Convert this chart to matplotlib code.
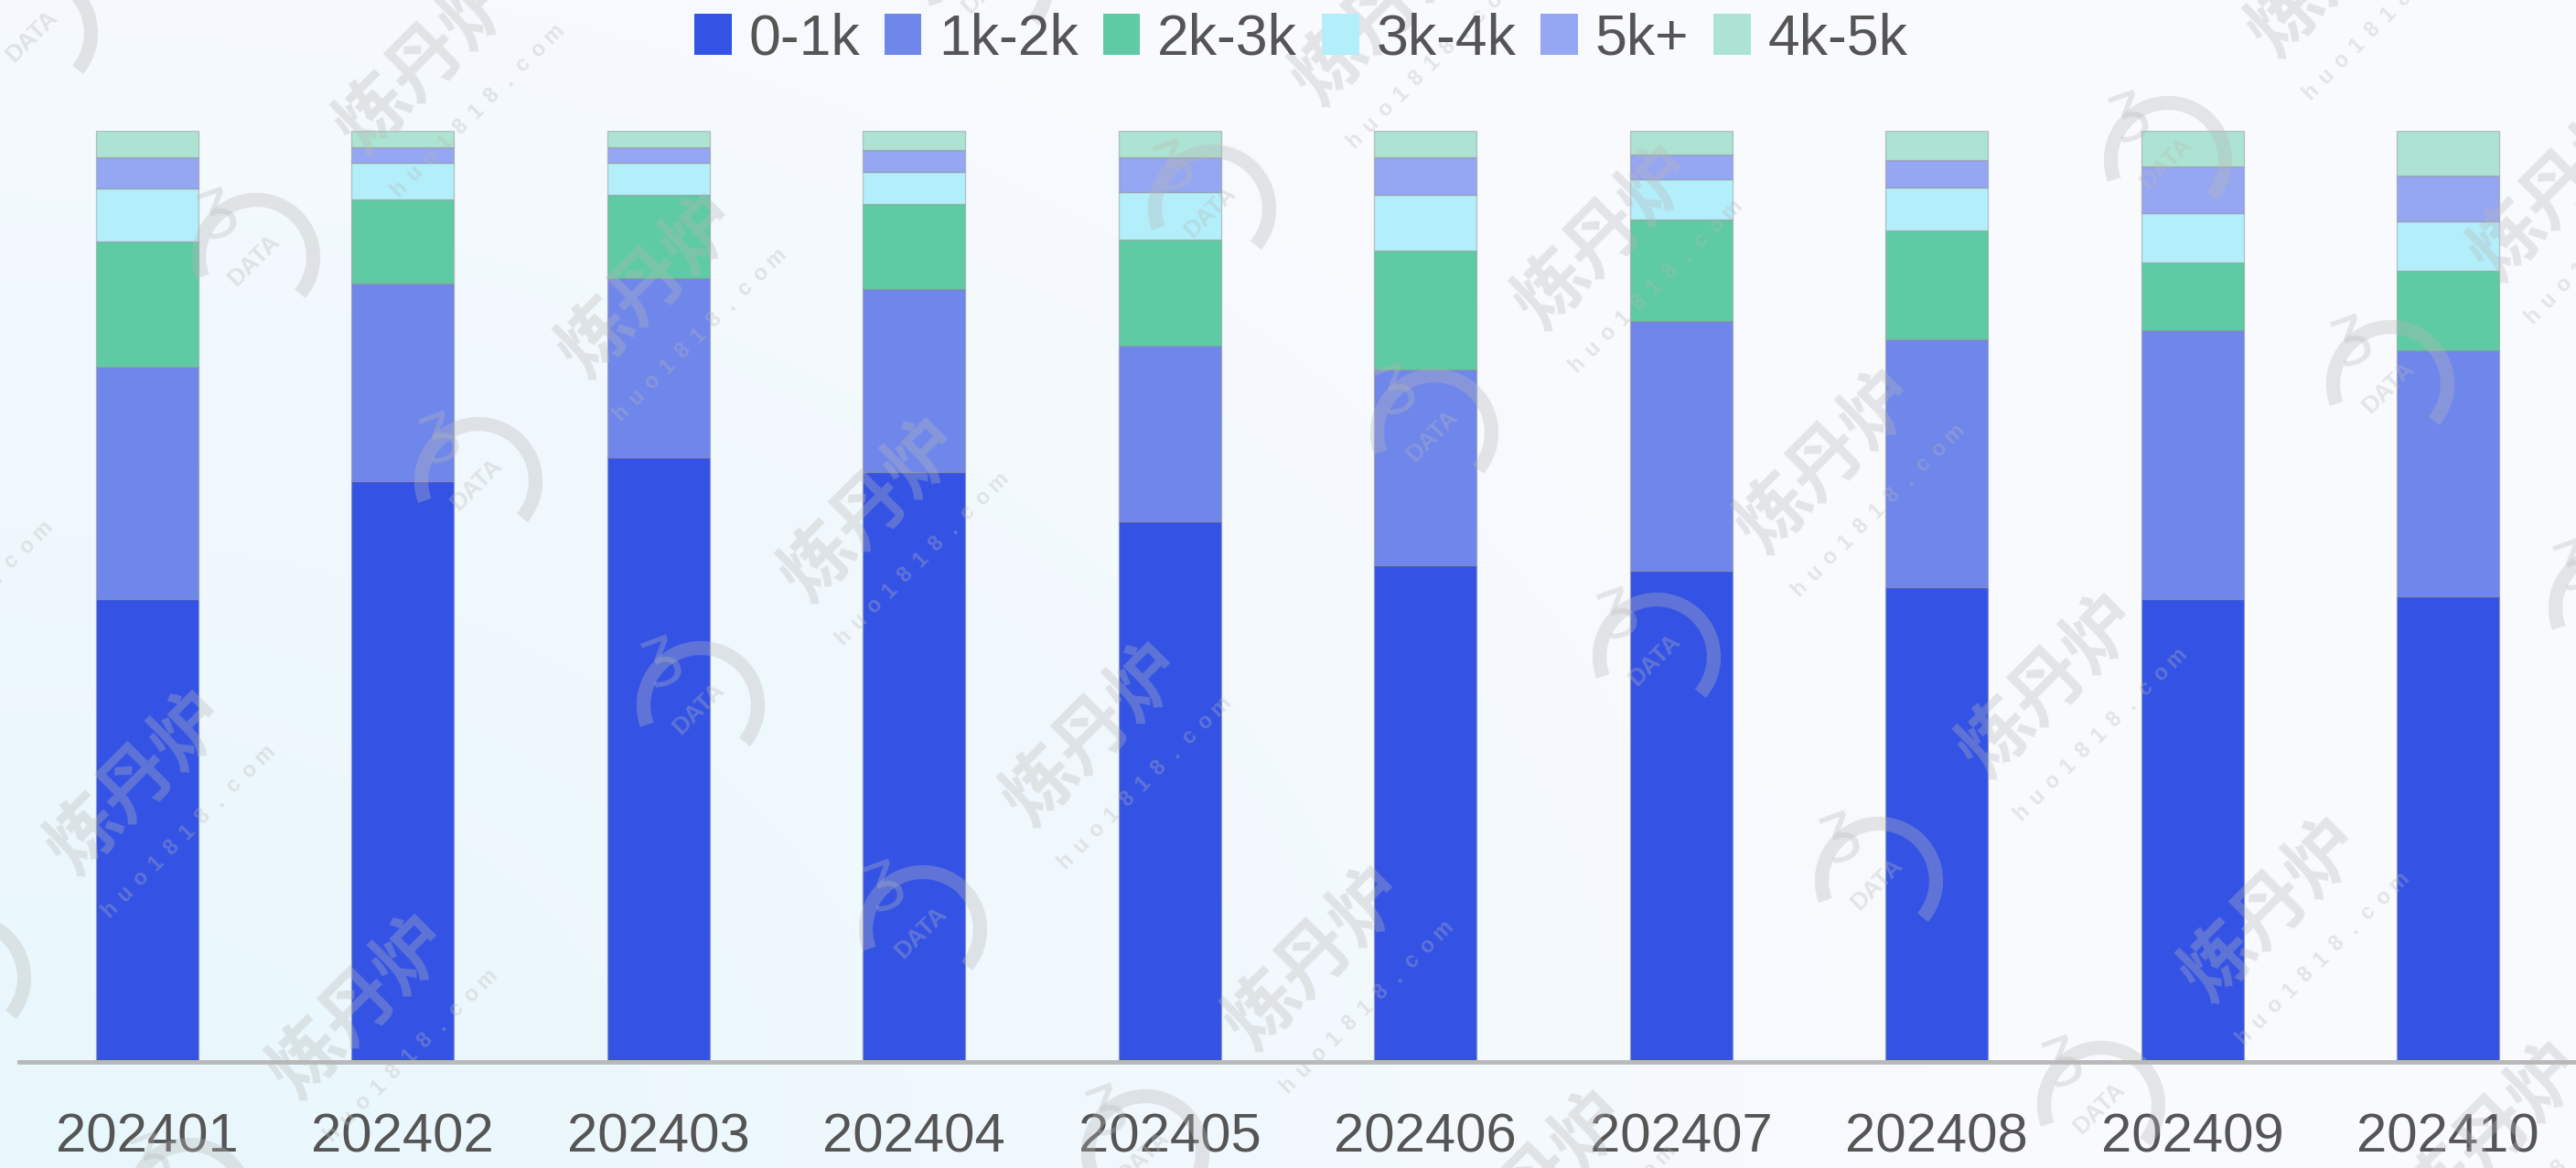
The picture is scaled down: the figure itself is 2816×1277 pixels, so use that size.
import numpy as np
import matplotlib
matplotlib.use("Agg")
import matplotlib.pyplot as plt
from matplotlib.patches import Patch, Arc

# ---- data -------------------------------------------------------------
months = ["202401", "202402", "202403", "202404", "202405",
          "202406", "202407", "202408", "202409", "202410"]
series_labels = ["0-1k", "1k-2k", "2k-3k", "3k-4k", "5k+", "4k-5k"]

share_0_1k = [49.7, 62.4, 64.9, 63.4, 58.1, 53.3, 52.8, 51.0, 49.7, 50.0]
share_1k_2k = [24.9, 21.2, 19.3, 19.7, 18.8, 21.1, 26.8, 26.7, 28.9, 26.4]
share_2k_3k = [13.4, 9.0, 8.9, 9.1, 11.4, 12.7, 11.0, 11.7, 7.3, 8.6]
share_3k_4k = [5.7, 4.0, 3.5, 3.5, 5.1, 6.0, 4.3, 4.6, 5.3, 5.3]
share_5k_plus = [3.4, 1.6, 1.6, 2.3, 3.8, 4.1, 2.6, 3.0, 5.0, 4.9]
share_4k_5k = [2.8, 1.8, 1.8, 2.1, 2.8, 2.8, 2.6, 3.1, 3.8, 4.8]

series_colors = ["#3453E5", "#6F86EB", "#5ECBA4", "#B3EEFB", "#95A6F2", "#ADE3D2"]

# ---- figure -----------------------------------------------------------
W, H = 2816, 1277
fig = plt.figure(figsize=(W / 100, H / 100), dpi=100)
plt.rcParams["font.family"] = ["Liberation Sans", "Noto Sans CJK SC", "DejaVu Sans"]

# soft background gradient (bluish in the lower left, near white elsewhere)
bg = fig.add_axes([0, 0, 1, 1], zorder=0)
yy, xx = np.mgrid[0:H:4, 0:W:4]
xb = xx / W
yb = 1 - yy / H
d = np.sqrt((xb / 0.75) ** 2 + (yb / 1.15) ** 2)
w = np.clip(1 - d, 0, 1) ** 0.9
c_low = np.array([232, 247, 252]) / 255
c_high = np.array([248, 250, 254]) / 255
img = c_high[None, None, :] * (1 - w[..., None]) + c_low[None, None, :] * w[..., None]
bg.imshow(img, extent=[0, 1, 0, 1], aspect="auto", origin="upper")
bg.axis("off")

# main axes
ax = fig.add_axes([21 / W, 1 - 1161 / H, 1 - 21 / W, (1161 - 143) / H], zorder=2)
ax.patch.set_alpha(0)

stack = np.array([share_0_1k, share_1k_2k, share_2k_3k,
                  share_3k_4k, share_5k_plus, share_4k_5k], dtype=float)
stack = stack / stack.sum(axis=0) * 100
x = np.arange(len(months))
bottom = np.zeros(len(months))
for vals, lab, col in zip(stack, series_labels, series_colors):
    ax.bar(x, vals, width=0.4, bottom=bottom, color=col, label=lab,
           edgecolor=(0.55, 0.55, 0.55, 0.45), linewidth=1.0)
    bottom += vals

ax.set_xlim(-0.5, len(months) - 0.5)
ax.set_ylim(0, 100)
ax.set_xticks(x)
ax.set_xticklabels(months, fontsize=43, color="#555555")
ax.tick_params(axis="x", length=0, pad=40)
ax.set_yticks([])
for s in ["top", "right", "left"]:
    ax.spines[s].set_visible(False)
ax.spines["bottom"].set_color("#b9b9b9")
ax.spines["bottom"].set_linewidth(3.5)

# legend across the top
handles = [Patch(facecolor=c, edgecolor="none") for c in series_colors]
fig.legend(handles, series_labels, loc="center", bbox_to_anchor=(1422 / W, 1 - 43 / H),
           ncol=6, frameon=False, fontsize=45, handlelength=0.65, handleheight=0.72,
           handletextpad=0.3, columnspacing=0.43, labelcolor="#555555")

# ---- watermark overlay ------------------------------------------------
wm = fig.add_axes([0, 0, 1, 1], zorder=5)
wm.set_xlim(0, W)
wm.set_ylim(H, 0)
wm.axis("off")
wm.patch.set_alpha(0)


def near_canvas(p, m):
    return -m < p[0] < W + m and -m < p[1] < H + m


wm_color = (0.72, 0.72, 0.72, 0.33)
step_a = np.array([243, 245])
step_b = np.array([1045, -53])
origin = np.array([280, 281])
diag = np.array([1, -1]) / np.sqrt(2)
perp = np.array([1, 1]) / np.sqrt(2)
site = "huo1818.com"
for i in range(-4, 8):
    for j in range(-2, 5):
        logo = origin + i * step_a + j * step_b
        name = logo + np.array([430, 32])
        if near_canvas(logo, 90):
            wm.add_patch(Arc(tuple(logo), 125, 125, angle=0, theta1=-200, theta2=40,
                             color=wm_color, lw=11))
        if near_canvas(logo, 20):
            wm.text(logo[0] - 2, logo[1] + 4, "DATA", rotation=45, fontsize=19,
                    fontweight="bold", color=wm_color, ha="center", va="center")
        swirl = logo + np.array([-45, -55])
        if near_canvas(swirl, 15):
            wm.text(swirl[0], swirl[1], "ʒ", rotation=20, fontsize=50,
                    color=wm_color, ha="center", va="center", family="DejaVu Sans")
        if near_canvas(name, 60):
            wm.text(name[0], name[1], "炼丹炉", rotation=45, fontsize=58,
                    color=wm_color, ha="center", va="center",
                    family=["Noto Sans CJK SC", "DejaVu Sans"], fontweight="bold")
        base = name + perp * 76
        for k, ch in enumerate(site):
            p = base + diag * (k - (len(site) - 1) / 2) * 24
            if near_canvas(p, 5):
                wm.text(p[0], p[1], ch, rotation=45, fontsize=17, color=wm_color,
                        ha="center", va="center", fontweight="bold")

fig.savefig("out.png", dpi=100)
